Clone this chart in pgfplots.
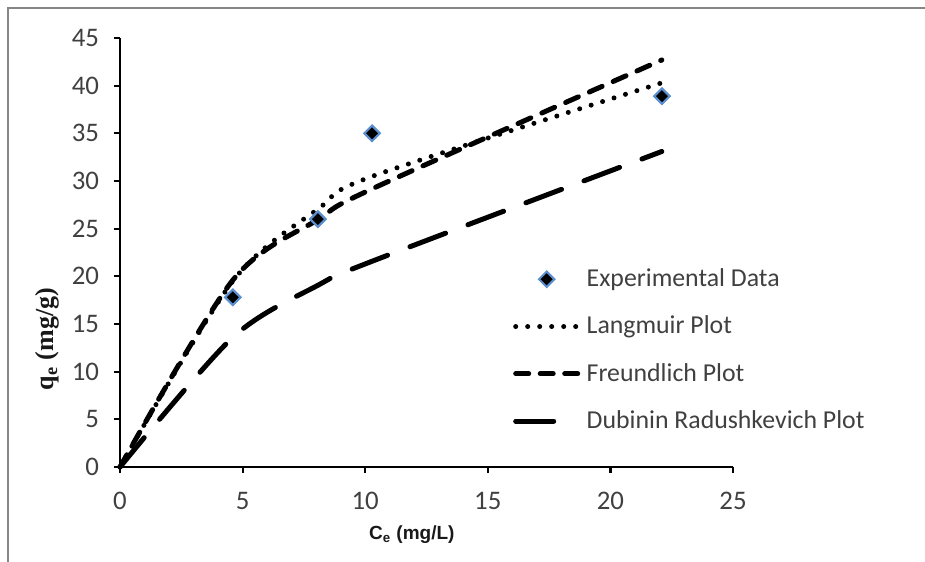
\documentclass[border=0pt]{standalone}
\usepackage{pgfplots}
\pgfplotsset{compat=1.18}
\usepackage{fontspec}
\setmainfont{Carlito}
\newfontfamily\arialf{Liberation Sans}
\newfontfamily\timesf{Liberation Serif}
\definecolor{txt}{HTML}{404040}
\definecolor{mkblue}{HTML}{5B8FD0}
\definecolor{framegray}{HTML}{868686}
\pgfplotsset{
  markleg/.style={legend image code/.code={\path[draw=none,fill=none] (-4bp,0bp) -- (29.5bp,0bp);\draw[##1] plot coordinates {(11.5bp,0bp)};}},
  freleg/.style={legend image code/.code={\path[draw=none,fill=none] (-4bp,0bp) -- (29.5bp,0bp);\draw[##1, dash pattern=on 6.5bp off 5.75bp] (-4bp,0bp) -- (27bp,0bp);}},
  drleg/.style={legend image code/.code={\path[draw=none,fill=none] (-4bp,0bp) -- (29.5bp,0bp);\draw[##1] (-4bp,0bp) -- (19.5bp,0bp);}},
}
\begin{document}
\begin{tikzpicture}
\useasboundingbox (-60bp,-47.5bp) rectangle (402.5bp,233.5bp);
\draw[framegray, line width=0.6bp] (-56bp,-100bp) -- (-56bp,229.5bp) -- (500bp,229.5bp);
\begin{axis}[
  at={(0,0)}, anchor=south west,
  scale only axis, width=306.5bp, height=214.5bp,
  xmin=0, xmax=25, ymin=0, ymax=45,
  axis lines*=left,
  axis line style={line width=1.1bp, black},
  xtick={0,5,...,25}, ytick={0,5,...,45},
  tick style={line width=1.1bp, black},
  tick align=outside, major tick length=3bp,
  tick label style={font=\fontsize{13.4bp}{16bp}\selectfont, text=txt},
  xticklabel style={yshift=-6bp},
  yticklabel style={xshift=-4bp},
  /pgf/number format/assume math mode=true,
  clip=false,
  xlabel={\arialf\bfseries C\textsubscript{e} (mg/L)},
  xlabel style={at={(axis description cs:0.476,-0.1585)}, anchor=center, font=\fontsize{9.5bp}{11bp}\selectfont, text=black!90},
  legend style={at={(axis cs:16.02,21.25)}, anchor=north west, draw=none, fill=none,
     font=\fontsize{12.9bp}{15bp}\selectfont, text=txt, row sep=9.2bp, inner sep=0pt},
  legend cell align=left,
  legend image code/.code={\path[draw=none,fill=none] (-4bp,0bp) -- (29.5bp,0bp);\draw[#1] (-4bp,0bp) -- (27bp,0bp);},
]
\addplot[only marks, mark=square*, mark size=2.7bp,
  mark options={rotate=45, fill=black, draw=mkblue, line width=1bp}, markleg]
  coordinates {(4.6,17.8) (8.07,26.0) (10.28,35.0) (22.1,38.9)};
\addlegendentry{Experimental Data}
\addplot[smooth, black, line width=2.5bp, line cap=round, dash pattern=on 0bp off 6bp]
  coordinates {(0,0) (4.6,19.5) (8.1,27.1) (10.3,30.5) (22.1,40.3)};
\addlegendentry{Langmuir Plot}
\addplot[smooth, black, line width=2.5bp, line cap=round, dash pattern=on 7bp off 6bp, freleg]
  coordinates {(0,0) (4.6,19.6) (8.1,26.0) (10.3,29.2) (22.1,42.7)};
\addlegendentry{Freundlich Plot}
\addplot[smooth, black, line width=2.5bp, line cap=round, dash pattern=on 19bp off 12bp, drleg]
  coordinates {(0,0) (4.6,13.6) (8.1,19.1) (10.3,21.6) (22.1,33.1)};
\addlegendentry{Dubinin Radushkevich Plot}
\addplot[only marks, mark=square*, mark size=2.7bp, forget plot,
  mark options={rotate=45, fill=black, draw=mkblue, line width=1bp}]
  coordinates {(4.6,17.8) (8.07,26.0) (10.28,35.0) (22.1,38.9)};
\end{axis}
\node[rotate=90, anchor=center, inner sep=0pt, text=black!90,
  font=\fontsize{13bp}{15bp}\selectfont\timesf\bfseries]
  at (-36.25bp,64bp) {q\textsubscript{e} (mg/g)};
\end{tikzpicture}
\end{document}
